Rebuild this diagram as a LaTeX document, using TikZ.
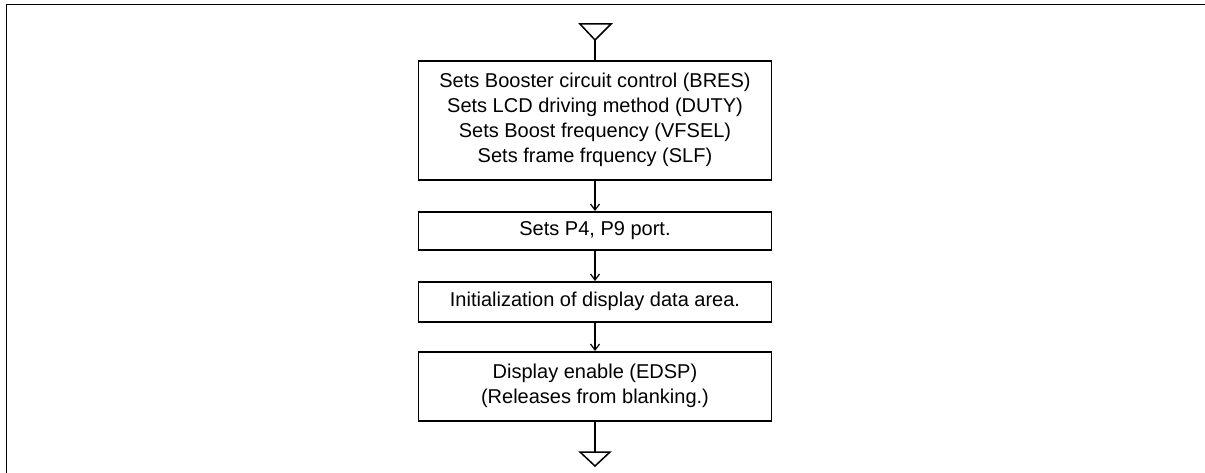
\documentclass[tikz,border=0pt]{standalone}
\usepackage{fontspec}
\setmainfont{Liberation Sans}
\usetikzlibrary{arrows.meta}
\begin{document}
\begin{tikzpicture}[x=1pt,y=-1pt,
  stepbox/.style={draw,line width=1.6pt,minimum width=353pt,anchor=north,align=center,font=\fontsize{20}{25}\selectfont,inner sep=0pt},
  conn/.style={line width=1.5pt},
  arr/.style={conn,-{Straight Barb[length=6pt,width=9pt,line width=1.2pt]}},
  tri/.style={draw,line width=1.5pt}]
\useasboundingbox (0,0) rectangle (1205,473);
\draw[line width=1.8pt] (6.5,473) -- (6.5,4.5) -- (1205,4.5);
\node[stepbox,minimum height=119pt] (b1) at (595,60) {Sets Booster circuit control (BRES)\\Sets LCD driving method (DUTY)\\Sets Boost frequency (VFSEL)\\Sets frame frquency (SLF)};
\node[stepbox,minimum height=38pt] (b2) at (595,211) {Sets P4, P9 port.};
\node[stepbox,minimum height=40pt] (b3) at (595,281) {Initialization of display data area.};
\node[stepbox,minimum height=69pt] (b4) at (595,351) {Display enable (EDSP)\\(Releases from blanking.)};
\coordinate (t1) at (595,40);
\coordinate (t2) at (595,452);
\draw[tri] (580,24) -- (611,24) -- (t1) -- cycle;
\draw[tri] (580,452) -- (610,452) -- (595,466) -- cycle;
\draw[conn] (t1) -- (b1.north);
\draw[arr] (b1.south) -- (b2.north);
\draw[arr] (b2.south) -- (b3.north);
\draw[arr] (b3.south) -- (b4.north);
\draw[conn] (b4.south) -- (t2);
\end{tikzpicture}
\end{document}
